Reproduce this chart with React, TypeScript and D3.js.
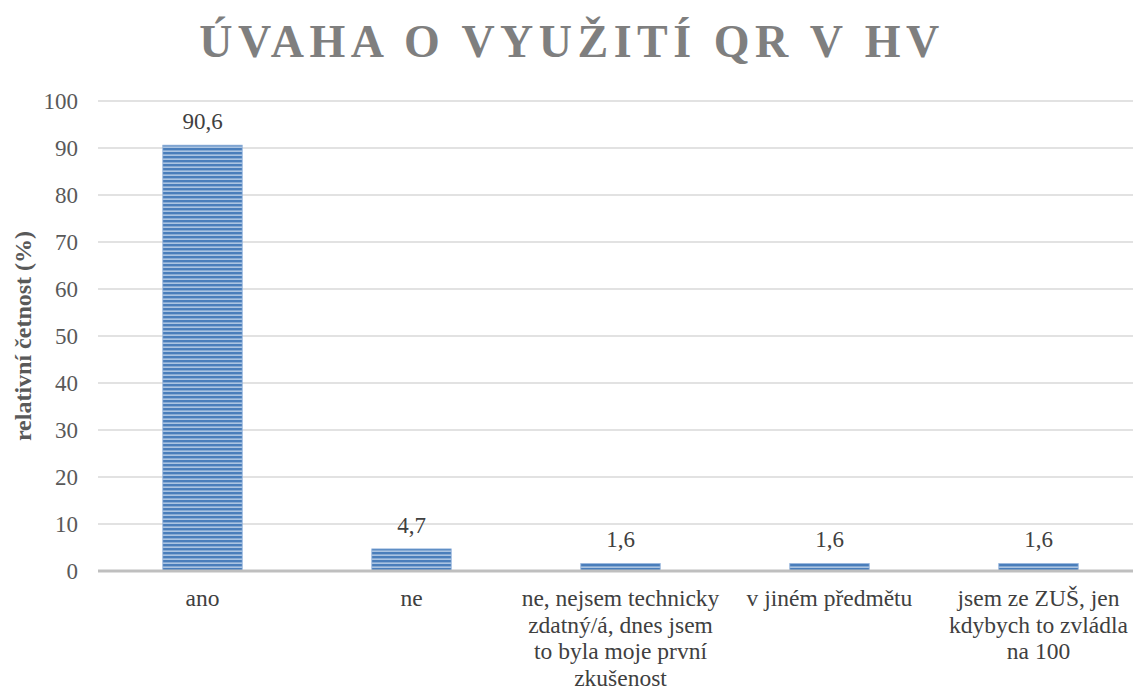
import React from "react";
import { scaleBand, scaleLinear, range } from "d3";

const categories = [
  ["ano"],
  ["ne"],
  ["ne, nejsem technicky", "zdatný/á, dnes jsem", "to byla moje první", "zkušenost"],
  ["v jiném předmětu"],
  ["jsem ze ZUŠ, jen", "kdybych to zvládla", "na 100"],
];
const values = [90.6, 4.7, 1.6, 1.6, 1.6];
const yTicks = range(0, 101, 10);

const width = 1133;
const height = 690;
const left = 98;
const bandW = 209;
const top = 101;
const bottom = 571;
const font = "Liberation Serif, Times New Roman, serif";

const x = scaleBand<number>()
  .domain(values.map((_, i) => i))
  .range([left, left + bandW * values.length])
  .paddingInner(0.62)
  .paddingOuter(0.31);

const y = scaleLinear().domain([0, 100]).range([bottom, top]);

export default function App() {
  return (
    <svg width={width} height={height} style={{ position: "absolute", left: 0, top: 0, background: "#fff" }}>
      <defs>
        <pattern id="stripes" width="8" height="4" patternUnits="userSpaceOnUse">
          <rect width="8" height="4" fill="#4a7ebb" />
          <rect y="2.5" width="8" height="1.3" fill="#c3d5ec" />
        </pattern>
      </defs>
      <text
        x={572}
        y={57}
        textAnchor="middle"
        style={{ fontFamily: font }}
        fontWeight="bold"
        fontSize={46}
        fill="#7f7f7f"
        letterSpacing={5.5}
      >
        ÚVAHA O VYUŽITÍ QR V HV
      </text>
      {yTicks.map((t) => (
        <g key={t}>
          {t > 0 && (
            <line x1={left} x2={width} y1={y(t)} y2={y(t)} stroke="#d9d9d9" strokeWidth={1.5} />
          )}
          <text
            x={78}
            y={y(t)}
            dy="0.34em"
            textAnchor="end"
            style={{ fontFamily: font }}
            fontSize={23}
            fill="#595959"
          >
            {t}
          </text>
        </g>
      ))}
      <text
        transform={`translate(31,${(top + bottom) / 2}) rotate(-90)`}
        textAnchor="middle"
        style={{ fontFamily: font }}
        fontWeight="bold"
        fontSize={24}
        fill="#595959"
      >
        relativní četnost (%)
      </text>
      {values.map((v, i) => (
        <g key={i}>
          <rect
            x={x(i)}
            y={y(v)}
            width={x.bandwidth()}
            height={bottom - y(v)}
            fill="url(#stripes)"
            stroke="#8fb0da"
            strokeWidth={0.8}
          />
          <text
            x={(x(i) ?? 0) + x.bandwidth() / 2}
            y={y(v) - 16}
            textAnchor="middle"
            style={{ fontFamily: font }}
            fontSize={23}
            fill="#404040"
          >
            {v.toFixed(1).replace(".", ",")}
          </text>
          {categories[i].map((line, j) => (
            <text
              key={j}
              x={(x(i) ?? 0) + x.bandwidth() / 2}
              y={606 + j * 26.5}
              textAnchor="middle"
              style={{ fontFamily: font }}
              fontSize={23.5}
              fill="#404040"
            >
              {line}
            </text>
          ))}
        </g>
      ))}
      <line x1={left} x2={width} y1={bottom} y2={bottom} stroke="#bfbfbf" strokeWidth={3} />
    </svg>
  );
}
